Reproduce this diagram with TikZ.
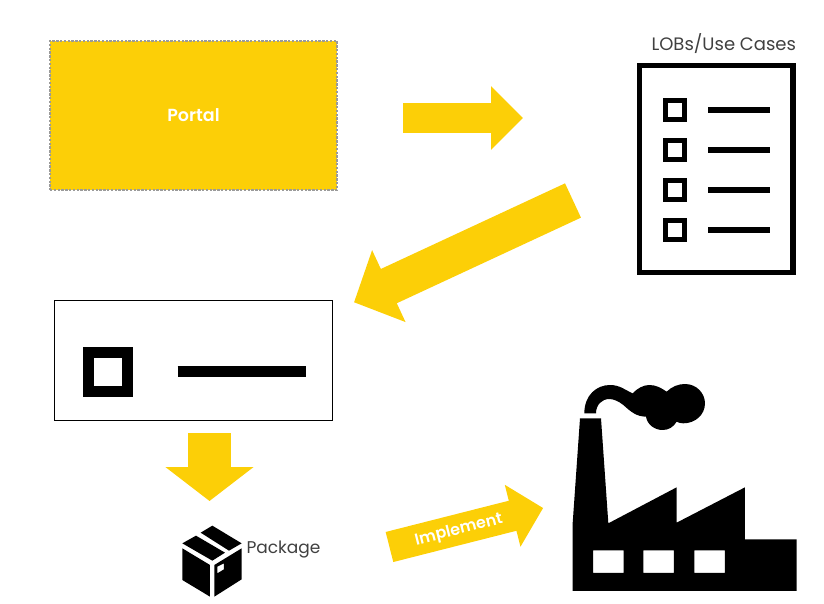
\documentclass[tikz,border=0pt]{standalone}
\usepackage{fontspec}
\setmainfont{Poppins}[BoldFont={Poppins SemiBold}]
\usetikzlibrary{arrows.meta,positioning}
\definecolor{Signal}{HTML}{FCCF07}
\definecolor{DashGray}{HTML}{9A9A9A}
\definecolor{LabelGray}{HTML}{404040}

\begin{document}
\begin{tikzpicture}[
      x=1pt, y=-1pt,
      every node/.style={outer sep=0pt},
      portalbox/.style={
        minimum width=287pt,
        minimum height=149pt,
        draw=DashGray,
        fill=Signal,
        line width=1.2pt,
        dash pattern=on 2.4pt off 1.4pt,
        text=white,
        font=\fontsize{17.5}{20}\selectfont\bfseries
      },
      framebox/.style={draw=black, fill=white, inner sep=0pt},
      caption/.style={text=LabelGray, inner sep=0pt, font=\fontsize{17}{20}\selectfont},
      ghost/.style={inner sep=0pt, minimum width=#1},
      flow/.style n args={3}{
        -{Triangle[length=#2,width=#3]},
        draw=Signal, line width=#1
      }
    ]
      \useasboundingbox (0,0) rectangle (824,604);
      \node[portalbox] (portal) at (193.5,115.5) {Portal};
      \node[framebox, line width=5.5pt, minimum width=153.5pt, minimum height=206.8pt] (usecases) at (716.2,168.85) {};
      \node[framebox, line width=1pt, minimum width=278.4pt, minimum height=120pt] (selected) at (193.5,360.3) {};
      \node[caption, font=\fontsize{18}{20}\selectfont, anchor=south east] (lobs) at (796,54) {LOBs/Use Cases};
      \node[ghost=60pt, minimum height=72pt] (box) at (212.5,561) {};
      \node[caption, anchor=center] (package) at (283.5,550) {Package};
      \node[ghost=224pt, minimum height=207pt] (factory) at (684.85,487.5) {};

      % checklist rows
      \foreach \rowy in {110,150,190,230} {
        \draw[line width=5pt] (665.8,\rowy-9.2) rectangle (684.2,\rowy+9.2);
        \draw[line width=5.5pt] (708,\rowy) -- (770,\rowy);
      }
      \draw[line width=11pt] (88.8,352.8) rectangle (127.8,391.2);
      \draw[line width=11pt] (177.7,371.8) -- (306,371.8);

      % block arrows
      \draw[flow={30pt}{32pt}{62pt}] ([shift={(66,2.5)}]portal.east) -- ([shift={(-116.45,-50.85)}]usecases.west);
      \draw[flow={37.8pt}{38.4pt}{77pt}] ([shift={(-66.45,-71.75)}]usecases.south west) -- ([shift={(21.3,2)}]selected.north east);
      \draw[flow={43.5pt}{34pt}{86.5pt}] ([shift={(16,12.7)}]selected.south) -- ([shift={(-3,-24)}]box.north);
      \draw[flow={31pt}{31.5pt}{62pt}] ([shift={(69,-3)}]package.east) -- node[sloped, pos=0.45, yshift=-1pt, text=white, font=\fontsize{16}{18}\selectfont\bfseries] (implement) {Implement} ([shift={(-29.7,20.5)}]factory.west);

      % package icon
      \begin{scope}[shift={(160,510)},scale=0.3333]
        \fill (122,68) -- (157,47) -- (245,100) -- (207,122) -- cycle;
        \fill (67,100) -- (108,77) -- (195,128) -- (157,152) -- cycle;
        \fill (67,115) -- (150,165) -- (150,260) -- (67,210) -- cycle;
        \fill[even odd rule] (163,165) -- (245,115) -- (245,208) -- (163,260) -- cycle
          (172,170) -- (192,160) -- (192,178) -- (172,190) -- cycle;
      \end{scope}

      % factory icon
      \begin{scope}[shift={(560,370)},scale=0.3333]
        \fill[even odd rule] (38,663) -- (38,460) -- (60,145) -- (123,145) -- (145,460) -- (350,352) -- (350,458) -- (555,352) -- (555,508) -- (710,508) -- (710,663) -- cycle
          (99,541) rectangle (191,609)
          (250,541) rectangle (342,609)
          (403,541) rectangle (495,609);
        \fill (73,130) .. controls (73,75) and (110,45) .. (150,45)
          .. controls (180,45) and (195,60) .. (218,70)
          .. controls (232,55) and (250,45) .. (268,45)
          .. controls (290,45) and (305,55) .. (320,65)
          .. controls (335,50) and (355,42) .. (375,42)
          .. controls (410,42) and (435,70) .. (435,100)
          .. controls (435,135) and (405,160) .. (370,160)
          .. controls (362,160) and (355,158) .. (350,155)
          .. controls (340,172) and (325,180) .. (308,180)
          .. controls (285,180) and (262,165) .. (258,140)
          .. controls (230,140) and (212,125) .. (190,105)
          .. controls (175,93) and (160,87) .. (148,87)
          .. controls (125,87) and (108,105) .. (108,130) -- cycle;
      \end{scope}
    \end{tikzpicture}
\end{document}
